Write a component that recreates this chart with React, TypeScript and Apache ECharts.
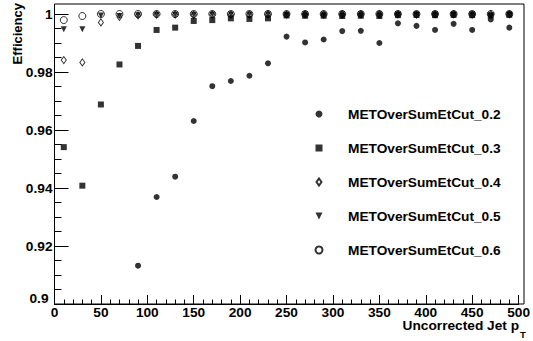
import React, { useEffect, useRef } from "react";
import * as echarts from "echarts";

const ptBins = [10, 30, 50, 70, 90, 110, 130, 150, 170, 190, 210, 230, 250, 270, 290, 310, 330, 350, 370, 390, 410, 430, 450, 470, 490];
const eff02 = [null, null, null, null, 0.9132, 0.9369, 0.9439, 0.9631, 0.9751, 0.9769, 0.9787, 0.983, 0.9922, 0.9902, 0.9912, 0.9941, 0.9942, 0.99, 0.9968, 0.9959, 0.9945, 0.9966, 0.9945, 0.9981, 0.9953];
const eff03 = [0.9541, 0.9408, 0.9688, 0.9826, 0.989, 0.9945, 0.9953, 0.9976, 0.9979, 0.9985, 0.9983, 0.9985, 0.9995, 0.9994, 0.9994, 0.9993, 0.9994, 0.9993, 0.9996, 0.9997, 0.9996, 0.9997, 0.9996, 0.9995, 0.9997];
const eff04 = [0.9841, 0.9833, 0.9971, 0.999, 0.9995, 0.9998, 0.9998, 0.9997, 0.9998, 0.9998, 0.9998, 0.9999, 0.9998, 0.9999, 0.9998, 0.9999, 0.9999, 0.9999, 0.9999, 0.9998, 0.9999, 0.9999, 0.9998, 0.9999, 0.9999];
const eff05 = [0.9947, 0.9947, 0.9995, 0.9993, 0.9996, 0.9997, 0.9997, 0.9997, 0.9998, 0.9998, 0.9998, 0.9998, 0.9998, 0.9999, 0.9998, 0.9999, 0.9999, 0.9999, 0.9999, 0.9999, 0.9999, 0.9999, 0.9999, 0.9995, 0.9999];
const eff06 = [0.9979, 0.9993, 1, 1, 1, 1, 1, 1, 1, 1, 1, 1, 1, 1, 1, 1, 1, 1, 1, 1, 1, 1, 1, 1, 1];
const seriesNames = ["METOverSumEtCut_0.2", "METOverSumEtCut_0.3", "METOverSumEtCut_0.4", "METOverSumEtCut_0.5", "METOverSumEtCut_0.6"];
const xTitle = "Uncorrected Jet p";
const xTitleSub = "T";
const yTitle = "Efficiency";

const FONT = "'Liberation Sans', Arial, Helvetica, sans-serif";
const FS = 13.7;

function pairs(vals: (number | null)[]) {
  const out: [number, number][] = [];
  vals.forEach((v, i) => {
    if (v !== null) out.push([ptBins[i], v]);
  });
  return out;
}

export default function App() {
  const ref = useRef<HTMLDivElement>(null);
  useEffect(() => {
    if (!ref.current) return;
    const chart = echarts.init(ref.current, null, { renderer: "svg" });
    const hollow = "rgba(255,255,255,0)";
    const styles = [
      { symbol: "circle", symbolSize: 6, itemStyle: { color: "#000" } },
      { symbol: "rect", symbolSize: 6, itemStyle: { color: "#000" } },
      { symbol: "diamond", symbolSize: [5, 7], itemStyle: { color: hollow, borderColor: "#000", borderWidth: 1 } },
      { symbol: "triangle", symbolSize: 6, symbolRotate: 180, itemStyle: { color: "#000" } },
      { symbol: "circle", symbolSize: 7, itemStyle: { color: hollow, borderColor: "#000", borderWidth: 1 } },
    ];
    const legendIcons = [
      { icon: "circle" },
      { icon: "rect" },
      { icon: "path://M0,-3.5L2.5,0L0,3.5L-2.5,0Z" },
      { icon: "path://M-3,-3L3,-3L0,3Z" },
      { icon: "circle" },
    ];
    const allData = [eff02, eff03, eff04, eff05, eff06];
    const fmtY = (v: number) => String(parseFloat(v.toFixed(3)));
    chart.setOption({
      animation: false,
      backgroundColor: "#fff",
      grid: { left: 54.5, right: 9, top: 14, bottom: 37, show: false },
      xAxis: {
        type: "value",
        min: 0,
        max: 500,
        interval: 50,
        axisLine: { show: true, lineStyle: { color: "#000", width: 1 } },
        axisTick: { show: true, inside: true, length: 9, lineStyle: { color: "#000" } },
        minorTick: { show: true, splitNumber: 5, length: 4.5, lineStyle: { color: "#000" } },
        splitLine: { show: false },
        axisLabel: { color: "#000", fontFamily: FONT, fontWeight: "bold", fontSize: FS, margin: 2, lineHeight: 12 },
      },
      yAxis: {
        type: "value",
        min: 0.9,
        max: 1.0,
        interval: 0.02,
        axisLine: { show: true, lineStyle: { color: "#000", width: 1 } },
        axisTick: { show: true, inside: true, length: 14, lineStyle: { color: "#000" } },
        minorTick: { show: true, splitNumber: 4, length: 7, lineStyle: { color: "#000" } },
        splitLine: { show: false },
        axisLabel: {
          color: "#000",
          fontFamily: FONT,
          fontWeight: "bold",
          fontSize: FS,
          margin: 2,
          formatter: (v: number) => (v < 0.9001 ? `{low|${fmtY(v)}}` : fmtY(v)),
          rich: {
            low: { padding: [0, 4, 12, 0], color: "#000", fontFamily: FONT, fontWeight: "bold", fontSize: FS },
          },
        },
      },
      legend: {
        orient: "vertical",
        left: 314.5,
        top: 106,
        padding: 0,
        itemWidth: 7,
        itemHeight: 7,
        itemGap: 18,
        symbolKeepAspect: true,
        data: seriesNames.map((name, i) => ({ name, ...legendIcons[i] })),
        textStyle: {
          color: "#000",
          fontFamily: FONT,
          fontWeight: "bold",
          fontSize: FS,
          lineHeight: 16,
          padding: [0, 0, 0, 20.5],
        },
      },
      graphic: [
        {
          type: "rect",
          shape: { x: 54.5, y: 4, width: 469.5, height: 300 },
          style: { fill: "none", stroke: "#000", lineWidth: 1 },
          silent: true,
          z: 10,
        },
        {
          type: "text",
          x: 17,
          y: 3,
          rotation: Math.PI / 2,
          style: {
            text: yTitle,
            align: "right",
            verticalAlign: "middle",
            fill: "#000",
            font: `bold 13px ${FONT}`,
          },
        },
        {
          type: "text",
          x: 519,
          y: 325.5,
          style: {
            text: xTitle,
            align: "right",
            verticalAlign: "middle",
            fill: "#000",
            font: `bold ${FS}px ${FONT}`,
            lineHeight: 12,
          },
        },
        {
          type: "text",
          x: 520,
          y: 334,
          style: {
            text: xTitleSub,
            align: "left",
            verticalAlign: "middle",
            fill: "#000",
            font: `bold 9.5px ${FONT}`,
          },
        },
      ],
      series: seriesNames.map((name, i) => ({
        name,
        type: "scatter",
        clip: false,
        data: pairs(allData[i]),
        ...styles[i],
      })),
    });
    return () => chart.dispose();
  }, []);
  return <div ref={ref} style={{ position: "absolute", left: 0, top: 0, width: 533, height: 341 }} />;
}
